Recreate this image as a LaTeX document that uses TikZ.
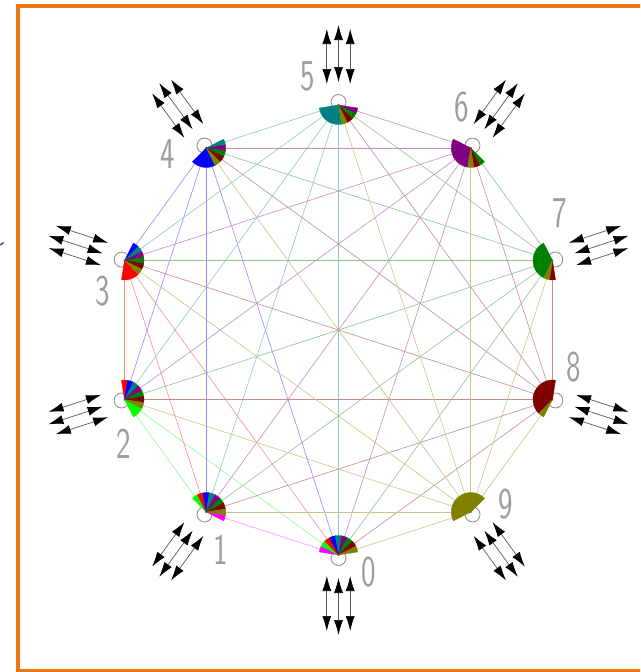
\documentclass[tikz,border=0pt]{standalone}
\usepackage{fontspec}
\usetikzlibrary{calc,arrows.meta}
\definecolor{c1}{RGB}{255,0,255}
\definecolor{c2}{RGB}{0,255,0}
\definecolor{c3}{RGB}{255,0,0}
\definecolor{c4}{RGB}{0,0,255}
\definecolor{c5}{RGB}{0,128,128}
\definecolor{c6}{RGB}{128,0,128}
\definecolor{c7}{RGB}{0,128,0}
\definecolor{c8}{RGB}{128,0,0}
\definecolor{c9}{RGB}{128,128,0}
\definecolor{frameorange}{RGB}{238,118,18}
\definecolor{marknavy}{RGB}{20,30,120}
\tikzset{
  edgeline/.style={line width=0.6pt},
  ring/.style={circle, draw=black!45, line width=0.8pt, minimum size=15pt, inner sep=0pt},
  dbl/.style={{Latex[length=15pt,width=9pt,color=black]}-{Latex[length=15pt,width=9pt,color=black]}, draw=black!65, line width=0.7pt},
  lab/.style={font={\sffamily\fontsize{44}{44}\selectfont}, text=black!38, inner sep=0pt, xscale=0.7},
}
\begin{document}
\begin{tikzpicture}[x=1pt,y=1pt]
\useasboundingbox (0,0) rectangle (640,-672);
\clip (0,0) rectangle (640,-672);
\fill[white] (0,0) rectangle (640,-672);
% frame
\draw[frameorange, line width=4pt] (18,-5.5) rectangle (650,-670.5);
\draw[marknavy, line width=1.2pt] (0.5,-245) -- (3.5,-242.5);
% vertices
\coordinate (C) at (338.5,-330);
\foreach \k in {0,...,9}{
  \coordinate (v\k) at ($(C)+({-90-36*\k}:225)$);
}
% rings
\foreach \k in {0,...,9}{
  \node[ring] (o\k) at ($(v\k)+({-90-36*\k}:3)$) {};
}
% edges
\foreach \j in {1,...,9}{
  \pgfmathtruncatemacro{\jm}{\j-1}
  \foreach \i in {0,...,\jm}{
    \draw[edgeline, c\j!45] (v\i) -- (v\j);
  }
}
% fans
\foreach \k in {0,...,9}{
  \foreach \j in {0,...,9}{
    \ifnum\j=\k\relax\else
      \pgfmathtruncatemacro{\m}{max(\k,\j)}
      \filldraw[fill=c\m, draw=c\m, line width=0.3pt] let \p1=($(v\j)-(v\k)$), \n1={atan2(\y1,\x1)} in
        (v\k) -- ++(\n1-9:19.5) arc[start angle=\n1-9, end angle=\n1+9, radius=19.5] -- cycle;
    \fi
  }
}
% arrows
\foreach \k in {0,...,9}{
  \pgfmathsetmacro{\th}{-90-36*\k}
  \foreach \s/\a/\b in {-11.7/21/76, 0/23/80, 11.7/21/76}{
    \coordinate (as) at ($(v\k)+(\th:\a)+(\th+90:\s)$);
    \coordinate (ae) at ($(v\k)+(\th:\b)+(\th+90:\s)$);
    \draw[dbl] (as) -- (ae);
  }
}
% labels
\node[lab] (l0) at (369,-572.5) {0};
\node[lab] (l1) at (221,-550) {1};
\node[lab] (l2) at (124,-444) {2};
\node[lab] (l3) at (102.5,-291) {3};
\node[lab] (l4) at (168,-154) {4};
\node[lab] (l5) at (307.5,-76.7) {5};
\node[lab] (l6) at (461.5,-106.7) {6};
\node[lab] (l7) at (560,-213) {7};
\node[lab] (l8) at (574,-367) {8};
\node[lab] (l9) at (506,-504) {9};
\end{tikzpicture}
\end{document}
